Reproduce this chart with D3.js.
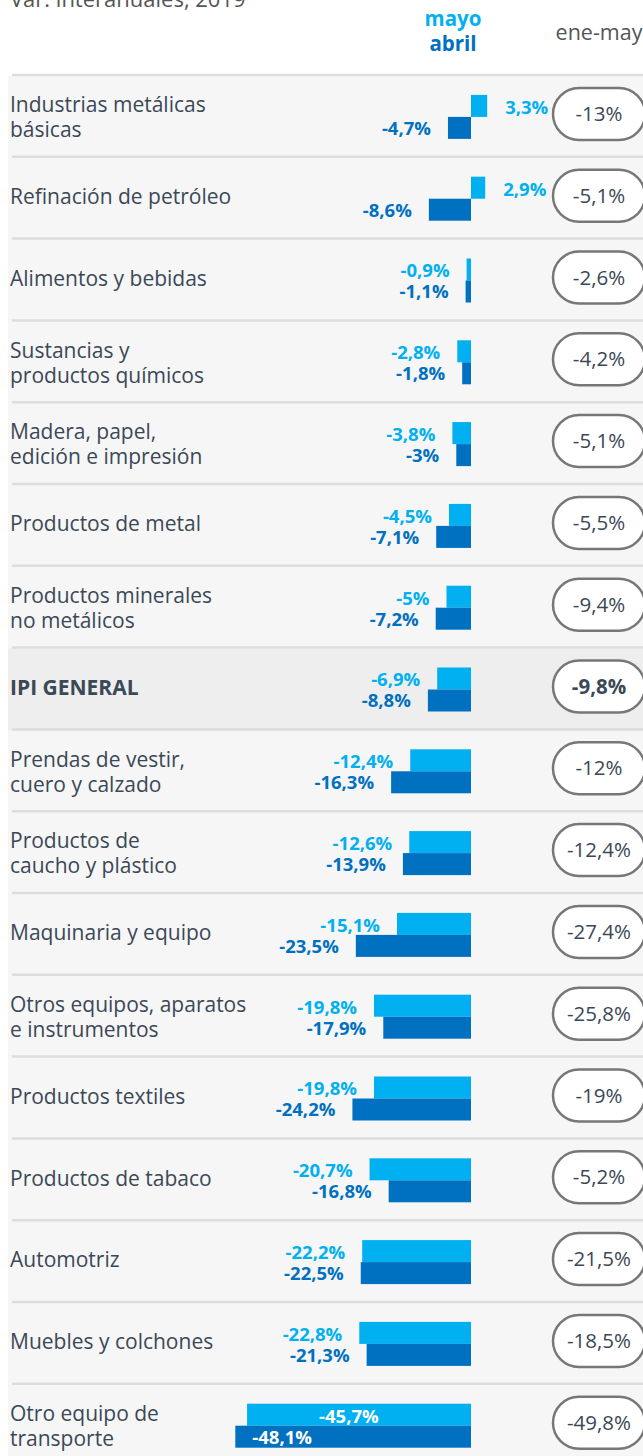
<!DOCTYPE html>
<html>
<head>
<meta charset="utf-8">
<script src="https://cdn.jsdelivr.net/npm/d3@7/dist/d3.min.js"></script>
<style>
  html, body { margin: 0; padding: 0; background: #fff; }
  svg { display: block; font-family: "Open Sans", "Noto Sans", sans-serif; }
</style>
</head>
<body>
<div id="chart"></div>
<script>
// sectors, top to bottom ("\n" = line break in the label)
const categories = [
  "Industrias metálicas\nbásicas",
  "Refinación de petróleo",
  "Alimentos y bebidas",
  "Sustancias y\nproductos químicos",
  "Madera, papel,\nedición e impresión",
  "Productos de metal",
  "Productos minerales\nno metálicos",
  "IPI GENERAL",
  "Prendas de vestir,\ncuero y calzado",
  "Productos de\ncaucho y plástico",
  "Maquinaria y equipo",
  "Otros equipos, aparatos\ne instrumentos",
  "Productos textiles",
  "Productos de tabaco",
  "Automotriz",
  "Muebles y colchones",
  "Otro equipo de\ntransporte"
]
const mayo = [3.3, 2.9, -0.9, -2.8, -3.8, -4.5, -5, -6.9, -12.4, -12.6, -15.1, -19.8, -19.8, -20.7, -22.2, -22.8, -45.7]
const abril = [-4.7, -8.6, -1.1, -1.8, -3, -7.1, -7.2, -8.8, -16.3, -13.9, -23.5, -17.9, -24.2, -16.8, -22.5, -21.3, -48.1]
const eneMay = [-13, -5.1, -2.6, -4.2, -5.1, -5.5, -9.4, -9.8, -12, -12.4, -27.4, -25.8, -19, -5.2, -21.5, -18.5, -49.8]
const totalLabel = "IPI GENERAL"

const width = 643
const height = 1456
const cMayo = "#00b0f0"
const cAbril = "#0070c0"
const cText = "#3b4856"

const es = d3.formatLocale({decimal: ",", thousands: ".", grouping: [3], currency: ["", "%"], minus: "-"})
const fmt = (v) => es.format(".1~f")(v) + "%"

const rows = categories.map((name, i) => ({
  name, lines: name.split("\n"), mayo: mayo[i], abril: abril[i], ene: eneMay[i], total: name === totalLabel
}))

const svg = d3.select("#chart").append("svg")
  .attr("width", width)
  .attr("height", height)

const y = d3.scaleBand()
  .domain(d3.range(rows.length))
  .range([75, 75 + rows.length * 81.8])

const x = d3.scaleLinear()
  .domain([-50, 5])
  .range([471 - 50 * 4.9, 471 + 5 * 4.9])

const barH = 22

// title (mostly cut off at the top)
svg.append("text")
  .attr("x", 10).attr("y", 7)
  .style("font-size", "22px").style("fill", "#555")
  .text("Var. interanuales, 2019")

// header
svg.append("text")
  .attr("x", 453).attr("y", 26).attr("text-anchor", "middle")
  .style("font-size", "20.5px").style("font-weight", "bold").style("fill", cMayo)
  .text("mayo")
svg.append("text")
  .attr("x", 453).attr("y", 51).attr("text-anchor", "middle")
  .style("font-size", "20.5px").style("font-weight", "bold").style("fill", cAbril)
  .text("abril")
svg.append("text")
  .attr("x", 599).attr("y", 40).attr("text-anchor", "middle")
  .style("font-size", "21.5px").style("fill", "#555")
  .text("ene-may")

// panel background
svg.append("rect")
  .attr("x", 8).attr("y", 76)
  .attr("width", width - 8).attr("height", height - 76)
  .style("fill", "#f6f6f6")

const row = svg.selectAll("g.row")
  .data(rows)
  .enter()
  .append("g")
  .attr("class", "row")
  .attr("transform", (d, i) => `translate(0,${y(i)})`)

const bw = y.bandwidth()

row.filter(d => d.total).append("rect")
  .attr("x", 8).attr("y", 1)
  .attr("width", width - 8).attr("height", bw)
  .style("fill", "#eeeeee")

row.append("line")
  .attr("x1", 12).attr("x2", width)
  .attr("y1", 0).attr("y2", 0)
  .style("stroke", "#dddddd").style("stroke-width", 2.5)

// row labels
row.each(function(d) {
  const g = d3.select(this)
  const n = d.lines.length
  d.lines.forEach((t, k) => {
    g.append("text")
      .attr("x", 10)
      .attr("y", n === 1 ? bw / 2 - 1 : bw / 2 - 11 + k * 25)
      .attr("dy", "0.35em")
      .style("font-size", "21px")
      .style("font-weight", d.total ? "bold" : "normal")
      .style("fill", cText)
      .text(t)
  })
})

const mid = bw / 2 + 1

// bars
row.append("rect")
  .attr("x", d => x(Math.min(0, d.mayo)))
  .attr("y", mid - barH)
  .attr("width", d => Math.abs(x(d.mayo) - x(0)))
  .attr("height", barH)
  .style("fill", cMayo)

row.append("rect")
  .attr("x", d => x(Math.min(0, d.abril)))
  .attr("y", mid)
  .attr("width", d => Math.abs(x(d.abril) - x(0)))
  .attr("height", barH)
  .style("fill", cAbril)

// value labels
const inside = (v) => x(0) - x(v) > 200
const labelX = (v, inOff) => {
  if (inside(v)) return x(v) + inOff
  return v >= 0 ? x(v) + 18 : x(v) - 17
}
const labelAnchor = (v) => (inside(v) || v >= 0) ? "start" : "end"

row.append("text")
  .attr("x", d => labelX(d.mayo, 72))
  .attr("y", mid - 3)
  .attr("text-anchor", d => labelAnchor(d.mayo))
  .style("font-size", "18.5px").style("font-weight", "bold")
  .style("fill", d => inside(d.mayo) ? "#fff" : cMayo)
  .text(d => fmt(d.mayo))

row.append("text")
  .attr("x", d => labelX(d.abril, 17))
  .attr("y", mid + 18)
  .attr("text-anchor", d => labelAnchor(d.abril))
  .style("font-size", "18.5px").style("font-weight", "bold")
  .style("fill", d => inside(d.abril) ? "#fff" : cAbril)
  .text(d => fmt(d.abril))

// ene-may pills
row.append("rect")
  .attr("x", 553).attr("y", mid - 29)
  .attr("width", 92).attr("height", 52)
  .attr("rx", 26).attr("ry", 26)
  .style("fill", "#fff")
  .style("stroke", "#777").style("stroke-width", 2.5)

row.append("text")
  .attr("x", 599).attr("y", mid - 3)
  .attr("dy", "0.35em")
  .attr("text-anchor", "middle")
  .style("font-size", "20.5px")
  .style("font-weight", d => d.total ? "bold" : "normal")
  .style("fill", cText)
  .text(d => fmt(d.ene))
</script>
</body>
</html>
